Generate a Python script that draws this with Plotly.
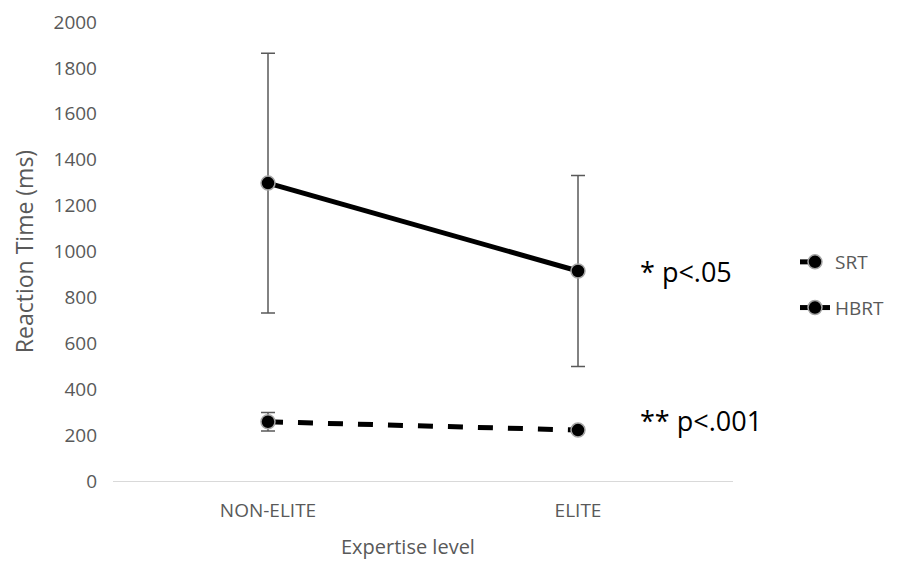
import plotly.graph_objects as go

categories = ["NON-ELITE", "ELITE"]
srt_values = [258, 222]
srt_errors = [40, 12]
hbrt_values = [1298, 915]
hbrt_errors = [566, 416]
y_ticks = [0, 200, 400, 600, 800, 1000, 1200, 1400, 1600, 1800, 2000]

font_family = "Open Sans, Noto Sans, sans-serif"

fig = go.Figure()
fig.add_trace(go.Scatter(
    x=categories, y=srt_values, name="SRT", mode="lines+markers", legendgroup="a",
    line=dict(color="black", width=5, dash="dash"),
    marker=dict(size=14, color="black", line=dict(color="#a6a6a6", width=1.5)),
    error_y=dict(type="data", array=srt_errors, color="#595959", thickness=1.5, width=7),
))
fig.add_trace(go.Scatter(
    x=categories, y=hbrt_values, name="HBRT", mode="lines+markers", legendgroup="b",
    line=dict(color="black", width=5),
    marker=dict(size=14, color="black", line=dict(color="#a6a6a6", width=1.5)),
    error_y=dict(type="data", array=hbrt_errors, color="#595959", thickness=1.5, width=7),
))

fig.add_annotation(x=1, y=915, xref="x", yref="y", text="* p<.05", showarrow=False,
                   xanchor="left", xshift=60, font=dict(size=27, color="black", family=font_family))
fig.add_annotation(x=1, y=262, xref="x", yref="y", text="** p<.001", showarrow=False,
                   xanchor="left", xshift=60, font=dict(size=27, color="black", family=font_family))
fig.add_annotation(x=0.5, y=0, xref="paper", yref="paper", text="Expertise level", showarrow=False,
                   xanchor="center", yanchor="middle", xshift=-15, yshift=-65,
                   font=dict(size=20, color="#595959", family=font_family))

fig.update_layout(
    width=904, height=561,
    margin=dict(l=105, r=179, t=14, b=88, autoexpand=False),
    paper_bgcolor="white", plot_bgcolor="white",
    font=dict(family=font_family, color="#595959", size=16),
    legend=dict(x=1.1, y=0.427, xanchor="left", yanchor="middle",
                font=dict(size=19, color="#595959"), tracegroupgap=18,
                bgcolor="rgba(0,0,0,0)"),
    xaxis=dict(
        type="category", range=[-0.5, 1.5], showgrid=False, automargin=False,
        showline=True, linecolor="#d9d9d9", linewidth=1, ticks="",
        ticklabelstandoff=12,
        tickfont=dict(size=19, color="#595959"),
    ),
    yaxis=dict(
        range=[0, 2000], tickvals=y_ticks, showgrid=False, zeroline=False, automargin=False,
        showline=False, ticks="", ticklabelstandoff=15,
        title=dict(text="Reaction Time (ms)", font=dict(size=23, color="#595959"), standoff=20),
        tickfont=dict(size=19, color="#595959"),
    ),
)

fig.write_html("out.html")
